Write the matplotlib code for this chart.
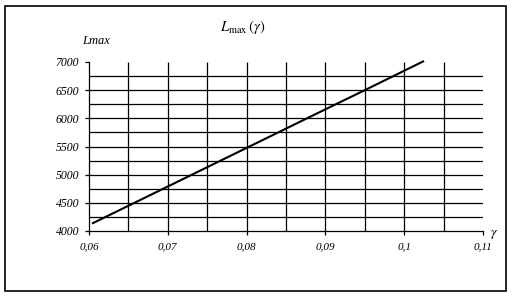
import numpy as np
import matplotlib
matplotlib.use("Agg")
from matplotlib import pyplot as plt
from matplotlib.patches import Rectangle

# values
gamma = [0.0605, 0.07, 0.08, 0.09, 0.095, 0.1024]
lmax = [4140, 4790, 5475, 6160, 6500, 7010]

x_ticks = [0.06, 0.07, 0.08, 0.09, 0.10, 0.11]
x_labels = ['0,06', '0,07', '0,08', '0,09', '0,1', '0,11']
y_ticks = [4000, 4500, 5000, 5500, 6000, 6500, 7000]
y_labels = ['4000', '4500', '5000', '5500', '6000', '6500', '7000']

plt.rcParams['font.family'] = ['Liberation Serif', 'DejaVu Serif']
plt.rcParams['mathtext.fontset'] = 'stix'

fig = plt.figure(figsize=(5.13, 2.99), dpi=100)
ax = fig.add_axes([89 / 513, 1 - 231 / 299, 394 / 513, 169 / 299])

# grid: verticals every 0.005, horizontals every 250
xgrid = np.arange(0.065, 0.1051, 0.005)
ygrid = np.arange(4250, 6751, 250)
ax.vlines(xgrid, 4000, 7000, color='black', lw=0.9)
ax.hlines(ygrid, 0.06, 0.11, color='black', lw=0.9)

ax.plot(gamma, lmax, color='black', lw=1.5, clip_on=False)

ax.set_xlim(0.06, 0.11)
ax.set_ylim(4000, 7000)
ax.set_xticks(x_ticks)
ax.set_xticklabels(x_labels, style='italic', fontsize=8)
ax.set_yticks(y_ticks)
ax.set_yticklabels(y_labels, style='italic', fontsize=8.5)
ax.tick_params(length=3, width=0.9, color='black', pad=4)
ax.tick_params(axis='x', pad=5)
for s in ['top', 'right']:
    ax.spines[s].set_visible(False)
for s in ['left', 'bottom']:
    ax.spines[s].set_linewidth(0.9)

fig.text(0.474, 0.91, r'$L_{\mathrm{max}}\,(\gamma)$', ha='center', va='center', fontsize=10.5)
fig.text(0.187, 0.863, 'Lmax', ha='center', va='center', style='italic', fontsize=9)
fig.text(0.963, 0.215, r'$\gamma$', ha='center', va='center', fontsize=10)

fig.patches.append(Rectangle((5 / 513, 1 - 291 / 299), 501 / 513, 285.3 / 299,
                             transform=fig.transFigure, fill=False,
                             edgecolor='black', lw=1.2))

fig.savefig('out.png', dpi=100)
